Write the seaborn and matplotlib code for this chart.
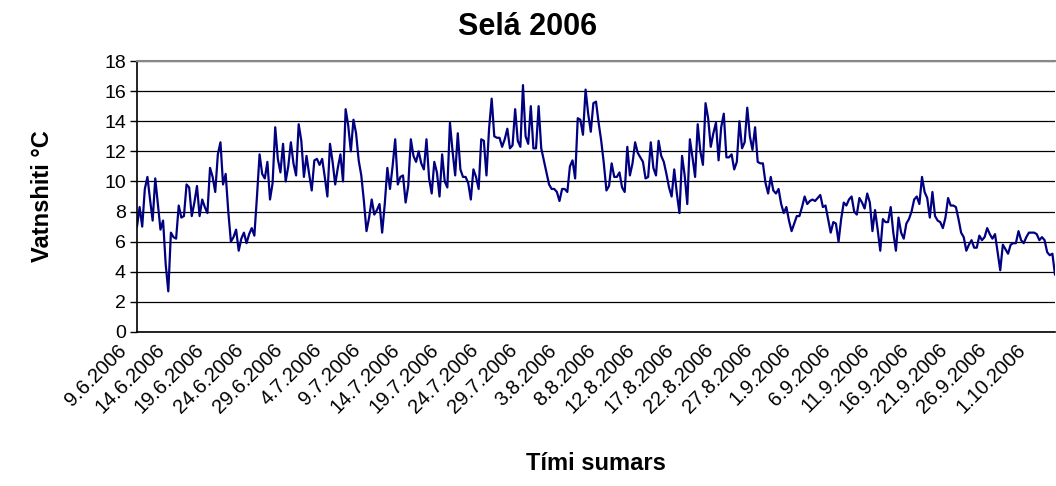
import numpy as np
import pandas as pd
import seaborn as sns
import matplotlib.pyplot as plt
from matplotlib.ticker import MultipleLocator
from matplotlib.transforms import ScaledTranslation

sns.set_style("white")
plt.rcParams['font.family'] = ['Liberation Sans', 'DejaVu Sans']
plt.rcParams['text.color'] = 'black'
plt.rcParams['axes.labelcolor'] = 'black'
plt.rcParams['xtick.color'] = 'black'
plt.rcParams['ytick.color'] = 'black'

# vatnshiti (°C), lesid af myndinni, u.th.b. 3 gildi a solarhring
temp = [
    7.0, 8.3, 7.0, 9.5, 10.3, 8.8, 7.4, 10.2, 8.5, 6.8,
    7.4, 4.5, 2.7, 6.6, 6.3, 6.2, 8.4, 7.6, 7.7, 9.8,
    9.6, 7.7, 8.6, 9.7, 7.7, 8.8, 8.3, 7.9, 10.9, 10.3,
    9.3, 11.8, 12.6, 9.8, 10.5, 8.0, 6.0, 6.3, 6.8, 5.4,
    6.2, 6.6, 5.9, 6.5, 6.9, 6.4, 9.0, 11.8, 10.5, 10.2,
    11.3, 8.8, 9.9, 13.6, 11.5, 10.6, 12.5, 10.0, 11.0,
    12.6, 11.2, 10.4, 13.8, 12.7, 10.3, 11.7, 10.5, 9.4, 11.4,
    11.5, 11.1, 11.5, 10.3, 9.0, 12.5, 11.3, 9.8, 10.9, 11.8,
    10.0, 14.8, 13.7, 12.0, 14.1, 13.2, 11.4, 10.4, 8.7, 6.7,
    7.6, 8.8, 7.8, 8.1, 8.5, 6.6, 8.5, 10.9, 9.5, 11.0,
    12.8, 9.8, 10.3, 10.4, 8.6, 9.7, 12.8, 11.7, 11.3, 12.0,
    11.2, 10.8, 12.8, 10.2, 9.2, 11.3, 10.6, 9.0, 11.8,
    10.0, 9.6, 13.9, 12.0, 10.4, 13.2, 10.8, 10.3, 10.3, 9.9,
    8.8, 10.8, 10.3, 9.5, 12.8, 12.7, 10.4, 13.5, 15.5, 13.0,
    12.9, 12.9, 12.3, 12.8, 13.5, 12.2, 12.4, 14.8, 12.7, 12.3,
    16.4, 13.0, 12.5, 15.0, 12.2, 12.2, 15.0, 12.2, 11.4, 10.6,
    9.8, 9.5, 9.5, 9.3, 8.7, 9.5, 9.5, 9.3, 11.0, 11.4,
    10.2, 14.2, 14.1, 13.1, 16.1, 14.5, 13.3, 15.2,
    15.3, 13.9, 12.7, 11.2, 9.4, 9.7, 11.2, 10.3, 10.3, 10.6,
    9.6, 9.3, 12.3, 10.4, 11.2, 12.6, 11.9, 11.6, 11.3, 10.2,
    10.3, 12.6, 10.9, 10.4, 12.7, 11.7, 11.3, 10.5, 9.6, 9.0,
    10.8, 9.2, 7.9, 11.7, 10.4, 8.5, 12.8, 11.6, 10.3, 13.8,
    12.0, 11.1, 15.2, 14.2, 12.3, 13.2, 13.9, 11.4, 13.6, 14.5,
    11.6, 11.6, 11.8, 10.8, 11.3, 14.0, 12.2, 12.6, 14.9,
    13.0, 12.1, 13.6, 11.3, 11.2, 11.2, 9.9, 9.2, 10.3, 9.4,
    9.2, 9.5, 8.5, 7.9, 8.3, 7.4, 6.7, 7.2, 7.7, 7.7,
    8.3, 9.0, 8.5, 8.7, 8.8, 8.7, 8.9, 9.1, 8.3, 8.4,
    7.5, 6.6, 7.3, 7.2, 6.0, 7.5, 8.6, 8.4, 8.8, 9.0,
    8.0, 7.8, 8.9, 8.6, 8.2, 9.2, 8.6, 6.7, 8.1, 6.8,
    5.4, 7.5, 7.3, 7.3, 8.3, 6.6, 5.4, 7.6, 6.6,
    6.2, 7.2, 7.5, 8.0, 8.8, 9.0, 8.5, 10.3, 9.3, 8.9,
    7.6, 9.3, 7.7, 7.4, 7.3, 6.9, 7.6, 8.9, 8.4, 8.4,
    8.3, 7.5, 6.6, 6.3, 5.4, 5.8, 6.1, 5.6, 5.6, 6.4,
    6.1, 6.3, 6.9, 6.5, 6.2, 6.5, 5.3, 4.1, 5.8, 5.5,
    5.2, 5.8, 5.9, 5.9, 6.7, 6.1, 5.9, 6.3, 6.6, 6.6,
    6.6, 6.5, 6.1, 6.3, 6.1, 5.3, 5.1, 5.2, 3.8,
]

date_labels = [
    "9.6.2006", "14.6.2006", "19.6.2006", "24.6.2006", "29.6.2006",
    "4.7.2006", "9.7.2006", "14.7.2006", "19.7.2006", "24.7.2006",
    "29.7.2006", "3.8.2006", "8.8.2006", "12.8.2006", "17.8.2006",
    "22.8.2006", "27.8.2006", "1.9.2006", "6.9.2006", "11.9.2006",
    "16.9.2006", "21.9.2006", "26.9.2006", "1.10.2006",
]

df = pd.DataFrame({"nr": np.arange(len(temp)), "hiti": temp})

fig = plt.figure(figsize=(10.56, 4.86), dpi=100)
ax = fig.add_axes([137 / 1056, 1 - 332 / 486, 918 / 1056, 271 / 486])

sns.lineplot(data=df, x="nr", y="hiti", color="#000080", linewidth=1.6, ax=ax)

ax.set_xlim(0, len(temp) - 1)
ax.set_ylim(0, 18)
ax.set_yticks(range(0, 19, 2))
ax.grid(axis="y", color="black", linewidth=0.9)
ax.set_axisbelow(True)

# merkingar a 15 punkta fresti, strik a 16.875 punkta fresti (eins og i Excel)
ax.set_xticks(np.arange(len(date_labels)) * 15)
ax.set_xticklabels(date_labels, rotation=45, ha="right", va="center",
                   rotation_mode="anchor", fontsize=14.5)
ax.xaxis.set_minor_locator(MultipleLocator(16.875))
ax.xaxis.remove_overlapping_locs = False
ax.tick_params(axis="x", which="major", length=0, pad=11)
ax.tick_params(axis="x", which="minor", direction="in", length=6, width=1, color="black")
ax.tick_params(axis="y", direction="out", length=5, width=1, color="black",
               labelsize=14, pad=3, left=True)
for lab in ax.get_xticklabels():
    lab.set_transform(lab.get_transform() + ScaledTranslation(-10 / 72, 0, fig.dpi_scale_trans))

for side in ["left", "bottom"]:
    ax.spines[side].set_color("black")
    ax.spines[side].set_linewidth(1.2)
ax.spines["top"].set_color("#888888")
ax.spines["top"].set_linewidth(1.5)
ax.spines["right"].set_visible(False)

ax.set_xlabel("Tími sumars", fontsize=17, fontweight="bold", labelpad=25)
ax.set_ylabel("Vatnshiti °C", fontsize=17, fontweight="bold", labelpad=36)
fig.suptitle("Selá 2006", fontsize=22, fontweight="bold", x=0.5, y=0.975)

fig.savefig("out.png", dpi=100)
